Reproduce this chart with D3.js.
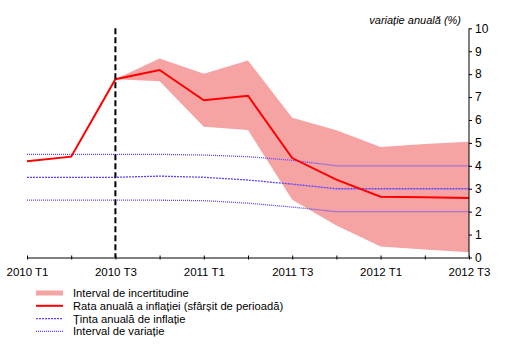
<!DOCTYPE html>
<html>
<head>
<meta charset="utf-8">
<script src="https://cdn.jsdelivr.net/npm/d3@7"></script>
<style>
  body { margin: 0; background: #fff; }
  svg { font-family: "Liberation Sans", Arial, sans-serif; }
</style>
</head>
<body>
<div id="chart"></div>
<script>
// quarters 2010 T1 .. 2012 T3
const quarters = ['2010 T1', '2010 T2', '2010 T3', '2010 T4', '2011 T1', '2011 T2',
    '2011 T3', '2011 T4', '2012 T1', '2012 T2', '2012 T3'];
const tickLabels = ['2010 T1', '2010 T3', '2011 T1', '2011 T3', '2012 T1', '2012 T3'];

const inflation = [4.2, 4.4, 7.78, 8.18, 6.86, 7.06, 4.34, 3.4, 2.65, 2.63, 2.6];
// uncertainty band starts at 2010 T3
const bandUpper = [null, null, 7.78, 8.68, 8.02, 8.59, 6.1, 5.55, 4.82, 4.95, 5.05];
const bandLower = [null, null, 7.78, 7.69, 5.7, 5.56, 2.52, 1.4, 0.48, 0.35, 0.23];

const target = [3.5, 3.5, 3.5, 3.55, 3.5, 3.38, 3.2, 3.0, 3.0, 3.0, 3.0];
const rangeUpper = [4.5, 4.5, 4.5, 4.5, 4.47, 4.4, 4.24, 4.0, 4.0, 4.0, 4.0];
const rangeLower = [2.5, 2.5, 2.5, 2.5, 2.48, 2.37, 2.2, 2.0, 2.0, 2.0, 2.0];

const yTicks = [0, 1, 2, 3, 4, 5, 6, 7, 8, 9, 10];

const width = 520, height = 350;
const colors = {
    band: '#f6a3a3',
    inflation: '#ff0000',
    target: '#5a46ff'
};

const svg = d3.select('#chart').append('svg')
    .attr('width', width)
    .attr('height', height);

const x = d3.scaleLinear().domain([0, quarters.length - 1]).range([27, 469]);
const y = d3.scaleLinear().domain([0, 10]).range([257.5, 28.3]);

// uncertainty band
const bandData = quarters.map((q, i) => ({ i, lo: bandLower[i], hi: bandUpper[i] }))
    .filter(d => d.hi !== null);
svg.append('path')
    .datum(bandData)
    .attr('fill', colors.band)
    .attr('d', d3.area().x(d => x(d.i)).y0(d => y(d.lo)).y1(d => y(d.hi)));

// target and variation range
const lineIdx = d3.line().x((d, i) => x(i)).y(d => y(d));
[rangeUpper, rangeLower].forEach(arr => {
    svg.append('path')
        .datum(arr)
        .attr('fill', 'none')
        .attr('stroke', colors.target)
        .attr('stroke-width', 1.3)
        .attr('stroke-dasharray', '1,1')
        .attr('d', lineIdx);
});
svg.append('path')
    .datum(target)
    .attr('fill', 'none')
    .attr('stroke', colors.target)
    .attr('stroke-width', 1.3)
    .attr('stroke-dasharray', '2,1')
    .attr('d', lineIdx);

// inflation line
svg.append('path')
    .datum(inflation)
    .attr('fill', 'none')
    .attr('stroke', colors.inflation)
    .attr('stroke-width', 2)
    .attr('d', lineIdx);

// vertical dashed line at 2010 T3
svg.append('line')
    .attr('x1', x(2)).attr('x2', x(2))
    .attr('y1', y(10)).attr('y2', y(0))
    .attr('stroke', '#000')
    .attr('stroke-width', 2)
    .attr('stroke-dasharray', '6,3');

// x axis
const xAxis = svg.append('g')
    .attr('transform', `translate(0,${y(0)})`)
    .call(d3.axisBottom(x)
        .tickValues(d3.range(quarters.length))
        .tickSize(0)
        .tickFormat(i => tickLabels.includes(quarters[i]) ? quarters[i] : ''));
xAxis.select('.domain').attr('stroke', '#000');
xAxis.selectAll('.tick line').attr('y1', -2).attr('y2', 2).attr('stroke', '#000');
xAxis.selectAll('.tick text')
    .attr('y', 10)
    .attr('dy', '0.71em')
    .style('font-size', '11.5px')
    .attr('fill', '#000');

// y axis on the right
const yAxis = svg.append('g')
    .attr('transform', `translate(${x(quarters.length - 1)},0)`)
    .call(d3.axisRight(y).tickValues(yTicks).tickSize(3).tickPadding(3));
yAxis.select('.domain').attr('d', `M0,${y(10)}V${y(0)}`).attr('stroke', '#000');
yAxis.selectAll('.tick line').attr('stroke', '#000');
yAxis.selectAll('.tick text')
    .style('font-size', '12px')
    .attr('fill', '#000');

svg.append('text')
    .attr('x', 461)
    .attr('y', 24)
    .attr('text-anchor', 'end')
    .style('font-size', '11px')
    .style('font-style', 'italic')
    .text('variație anuală (%)');

// legend
const legendItems = [
    { label: 'Interval de incertitudine', type: 'band' },
    { label: 'Rata anuală a inflației (sfârșit de perioadă)', type: 'inflation' },
    { label: 'Ținta anuală de inflație', type: 'target' },
    { label: 'Interval de variație', type: 'range' }
];
const legend = svg.append('g').attr('transform', 'translate(36,293)');
legendItems.forEach((d, i) => {
    const row = legend.append('g').attr('transform', `translate(0,${i * 12.8})`);
    if (d.type === 'band') {
        row.append('rect').attr('x', 0).attr('y', -2.5).attr('width', 27).attr('height', 5)
            .attr('fill', colors.band);
    } else {
        row.append('line').attr('x1', 0).attr('x2', 27).attr('y1', 0).attr('y2', 0)
            .attr('stroke', d.type === 'inflation' ? colors.inflation : colors.target)
            .attr('stroke-width', d.type === 'inflation' ? 2 : 1.3)
            .attr('stroke-dasharray', d.type === 'target' ? '2,1' : d.type === 'range' ? '1,1' : null);
    }
    row.append('text')
        .attr('x', 37)
        .attr('y', 0)
        .attr('dy', '0.35em')
        .style('font-size', '11.2px')
        .text(d.label);
});
</script>
</body>
</html>
